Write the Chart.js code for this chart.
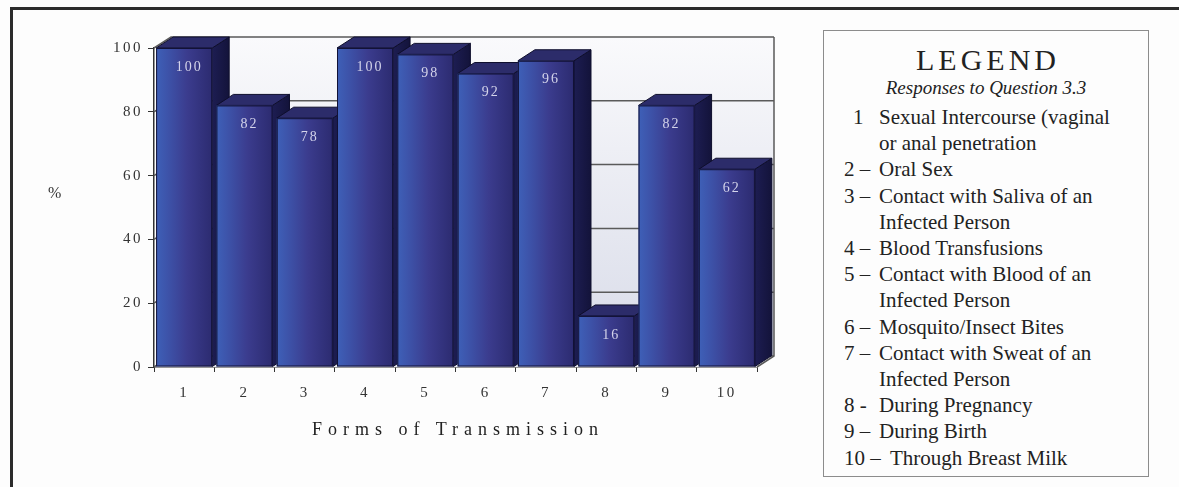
<!DOCTYPE html>
<html>
<head>
<meta charset="utf-8">
<script src="https://cdn.jsdelivr.net/npm/chart.js@4/dist/chart.umd.min.js"></script>
<style>
  html, body { margin:0; padding:0; background:#fdfdfd; width:1179px; height:487px; overflow:hidden; font-family:'Liberation Serif', 'DejaVu Serif', serif; }
  #frame { position:absolute; left:10px; top:7px; width:1300px; height:700px; border:3px solid #2b2b2b; }
  #chartWrap { position:absolute; left:0; top:0; width:800px; height:487px; }
  #ytitle { position:absolute; left:48px; top:184px; font-size:16px; color:#333; }
  #xtitle { position:absolute; left:255px; width:406px; top:419px; text-align:center; font-size:18px; letter-spacing:6px; color:#222; }
  #legend { position:absolute; left:823px; top:30px; width:324px; height:445px; border:1px solid #8c8c8c; background:#fdfdfd; }
  .lg { position:absolute; color:#222; white-space:nowrap; }
</style>
</head>
<body>
<div id="frame"></div>
<div id="chartWrap"><canvas id="c" width="800" height="487"></canvas></div>
<div id="ytitle">%</div>
<div id="xtitle">Forms of Transmission</div>
<div id="legend"></div>
<script>
// ---- data ----
const categories = ['1','2','3','4','5','6','7','8','9','10'];
const values = [100, 82, 78, 100, 98, 92, 96, 16, 82, 62];
const legendTitle = 'LEGEND';
const legendSubtitle = 'Responses to Question 3.3';
const legendNumbers = ['1', '2 –', '3 –', '4 –', '5 –', '6 –', '7 –', '8 -', '9 –', '10 –'];
const legendTexts = [
  ['Sexual Intercourse (vaginal', 'or anal penetration'],
  ['Oral Sex'],
  ['Contact with Saliva of an', 'Infected Person'],
  ['Blood Transfusions'],
  ['Contact with Blood of an', 'Infected Person'],
  ['Mosquito/Insect Bites'],
  ['Contact with Sweat of an', 'Infected Person'],
  ['During Pregnancy'],
  ['During Birth'],
  ['Through Breast Milk']
];

// ---- legend (HTML text) ----
(function(){
  const lg = document.getElementById('legend');
  const boxL = 823, boxT = 30;
  function add(text, x, yc, style) {
    const d = document.createElement('div');
    d.className = 'lg';
    d.textContent = text;
    d.style.left = (x - boxL) + 'px';
    d.style.top = (yc - boxT - 13) + 'px';
    d.style.lineHeight = '26px';
    Object.assign(d.style, style || {});
    lg.appendChild(d);
    return d;
  }
  add(legendTitle, 0, 59, {fontSize:'30px', letterSpacing:'4px', width:'328px', textAlign:'center', left:'0px'});
  add(legendSubtitle, 0, 87, {fontSize:'19px', fontStyle:'italic', width:'324px', textAlign:'center', left:'0px'});
  let line = 0;
  legendTexts.forEach((lines, i) => {
    lines.forEach((txt, j) => {
      const yc = 116 + line * 26.2;
      if (j === 0) add(legendNumbers[i], i === 0 ? 852 : 843, yc, {fontSize:'21px'});
      add(txt, (i === 9) ? 889 : 878, yc, {fontSize:'21px'});
      line++;
    });
  });
})();

// ---- 3D bar plugin ----
const DX = 17, DY = 11;
const bar3d = {
  id: 'bar3d',
  beforeDraw(chart) { chart.ctx.letterSpacing = '2.5px'; },
  beforeDatasetsDraw(chart) {
    const ctx = chart.ctx, ca = chart.chartArea, ys = chart.scales.y;
    ctx.letterSpacing = '0px';
    const top = ys.getPixelForValue(100), bot = ys.getPixelForValue(0);
    ctx.save();
    // floor
    ctx.fillStyle = '#e9eaf1';
    ctx.beginPath();
    ctx.moveTo(ca.left, bot); ctx.lineTo(ca.right, bot);
    ctx.lineTo(ca.right + DX, bot - DY); ctx.lineTo(ca.left + DX, bot - DY);
    ctx.closePath(); ctx.fill();
    // back wall
    const g = ctx.createLinearGradient(0, top - DY, 0, bot - DY);
    g.addColorStop(0, '#fafafc');
    g.addColorStop(0.35, '#eeeff5');
    g.addColorStop(1, '#d9dce9');
    ctx.fillStyle = g;
    ctx.fillRect(ca.left + DX, top - DY, ca.right - ca.left, bot - top);
    // grid lines on back wall
    ctx.strokeStyle = '#5a5a5a';
    ctx.lineWidth = 1.5;
    for (let v = 0; v <= 100; v += 20) {
      const y = ys.getPixelForValue(v) - DY;
      ctx.beginPath();
      ctx.moveTo(ca.left, y + DY); ctx.lineTo(ca.left + DX, y);
      ctx.lineTo(ca.right + DX, y);
      ctx.stroke();
    }
    // right wall edge
    ctx.beginPath();
    ctx.moveTo(ca.right + DX, top - DY); ctx.lineTo(ca.right + DX, bot - DY);
    ctx.lineTo(ca.right, bot);
    ctx.stroke();
    ctx.restore();
  },
  beforeDatasetDraw() { return false; },
  afterDatasetsDraw(chart) {
    const ctx = chart.ctx;
    const meta = chart.getDatasetMeta(0);
    ctx.save();
    meta.data.forEach((el, i) => {
      const x0 = el.x - el.width / 2, x1 = el.x + el.width / 2;
      const y = el.y, b = el.base;
      // side face
      const sg = ctx.createLinearGradient(x1, 0, x1 + DX, 0);
      sg.addColorStop(0, '#1d1d52');
      sg.addColorStop(1, '#13133a');
      ctx.fillStyle = sg;
      ctx.beginPath();
      ctx.moveTo(x1, y); ctx.lineTo(x1 + DX, y - DY);
      ctx.lineTo(x1 + DX, b - DY); ctx.lineTo(x1, b);
      ctx.closePath(); ctx.fill();
      ctx.strokeStyle = '#0e0e2c'; ctx.lineWidth = 1; ctx.stroke();
      // top face
      ctx.fillStyle = '#2c2c6a';
      ctx.beginPath();
      ctx.moveTo(x0, y); ctx.lineTo(x0 + DX, y - DY);
      ctx.lineTo(x1 + DX, y - DY); ctx.lineTo(x1, y);
      ctx.closePath(); ctx.fill(); ctx.stroke();
      // front face
      const fg = ctx.createLinearGradient(x0, 0, x1, 0);
      fg.addColorStop(0, '#3e60b8');
      fg.addColorStop(0.22, '#3d52a8');
      fg.addColorStop(0.55, '#3b3c8e');
      fg.addColorStop(1, '#2c2b70');
      ctx.fillStyle = fg;
      ctx.fillRect(x0, y, x1 - x0, b - y);
      ctx.strokeStyle = '#121236';
      ctx.strokeRect(x0 + 0.5, y + 0.5, x1 - x0 - 1, b - y - 1);
      // value label
      ctx.fillStyle = '#d4d4ea';
      ctx.font = '14px "Liberation Serif", serif';
      ctx.letterSpacing = '2px';
      ctx.textAlign = 'center';
      ctx.textBaseline = 'middle';
      ctx.fillText(String(values[i]), el.x + 5, y + 19);
    });
    ctx.restore();
  }
};

new Chart(document.getElementById('c'), {
  type: 'bar',
  data: {
    labels: categories,
    datasets: [{ data: values, backgroundColor: '#3b3c8e', barPercentage: 0.93, categoryPercentage: 1.0 }]
  },
  options: {
    responsive: false,
    animation: false,
    events: [],
    layout: { padding: { left: 94, right: 43, top: 48, bottom: 80 } },
    plugins: { legend: { display: false }, tooltip: { enabled: false } },
    scales: {
      x: {
        afterFit: s => { s.height = 40; },
        grid: { drawOnChartArea: false, drawTicks: true, tickLength: 5, color: '#333' },
        border: { display: true, color: '#333', width: 1.5 },
        ticks: { color: '#333', padding: 12, font: { family: 'Liberation Serif', size: 15 } }
      },
      y: {
        min: 0, max: 100,
        afterFit: s => { s.width = 60; },
        grid: { drawOnChartArea: false, drawTicks: true, tickLength: 6, color: '#333' },
        border: { display: true, color: '#333', width: 1.5 },
        ticks: { stepSize: 20, color: '#333', padding: 5, font: { family: 'Liberation Serif', size: 15 } }
      }
    }
  },
  plugins: [bar3d]
});
</script>
</body>
</html>
